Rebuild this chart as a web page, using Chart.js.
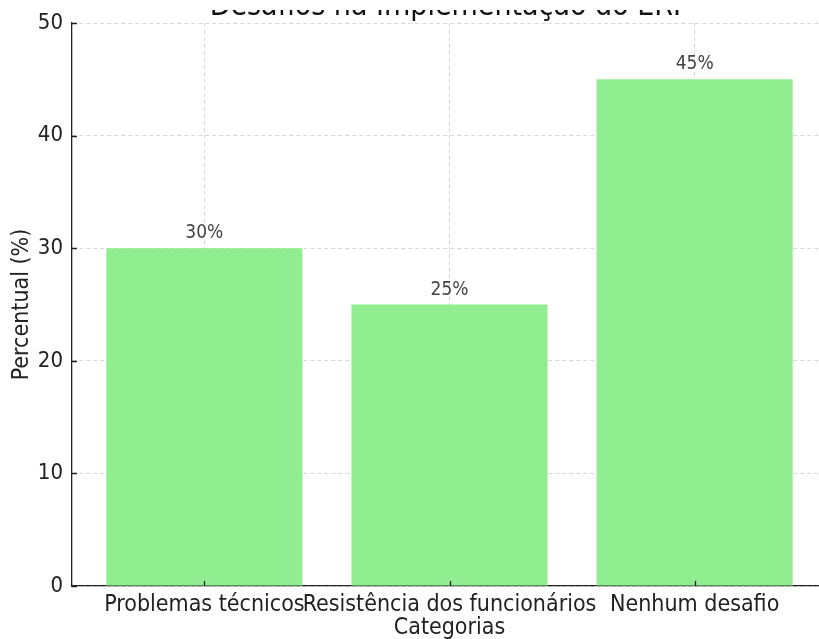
<!DOCTYPE html>
<html>
<head>
<meta charset="utf-8">
<script src="https://cdn.jsdelivr.net/npm/chart.js@4"></script>
<style>
  html, body { margin: 0; padding: 0; background: #fff; overflow: hidden; }
  .wrap { width: 830px; height: 639px; position: relative; }
</style>
</head>
<body>
<div class="wrap"><canvas id="chart"></canvas></div>
<script>
// dados do gráfico
const categorias = ['Problemas técnicos', 'Resistência dos funcionários', 'Nenhum desafio'];
const percentuais = [30, 25, 45];
const yTicks = [0, 10, 20, 30, 40, 50];
const titulo = 'Desafios na Implementação do ERP';

const fonte = "'DejaVu Sans Condensed', 'Liberation Sans Narrow', 'DejaVu Sans', sans-serif";

// título cortado no topo + rótulos em cima das barras + marcas de tick para dentro
const extras = {
  id: 'extras',
  afterDraw(chart) {
    const ctx = chart.ctx;
    const area = chart.chartArea;
    ctx.save();
    // só a parte de baixo do título aparece na referência
    ctx.save();
    ctx.beginPath();
    ctx.rect(0, 10, chart.width, 20);
    ctx.clip();
    ctx.fillStyle = '#111';
    ctx.font = '30px ' + fonte;
    ctx.textAlign = 'center';
    ctx.textBaseline = 'alphabetic';
    ctx.fillText(titulo, (area.left + area.right) / 2, 15);
    ctx.restore();

    ctx.font = '19px ' + fonte;
    ctx.fillStyle = '#444';
    ctx.textAlign = 'center';
    ctx.textBaseline = 'alphabetic';
    chart.getDatasetMeta(0).data.forEach((bar, i) => {
      ctx.fillText(percentuais[i] + '%', bar.x, bar.y - 10);
    });

    ctx.strokeStyle = '#222';
    ctx.lineWidth = 1.3;
    const xs = chart.scales.x, ys = chart.scales.y;
    ctx.beginPath();
    categorias.forEach((c, i) => {
      const px = Math.round(xs.getPixelForValue(i)) + 0.5;
      ctx.moveTo(px, area.bottom);
      ctx.lineTo(px, area.bottom - 5);
    });
    yTicks.forEach(v => {
      const py = Math.round(ys.getPixelForValue(v)) + 0.5;
      ctx.moveTo(area.left, py);
      ctx.lineTo(area.left + 5, py);
    });
    ctx.stroke();
    ctx.restore();
  }
};

new Chart(document.getElementById('chart'), {
  type: 'bar',
  data: {
    datasets: [{
      label: 'Percentual',
      data: percentuais.map((v, i) => ({ x: i, y: v })),
      backgroundColor: '#90EE90',
      borderWidth: 0,
      barPercentage: 0.8,
      categoryPercentage: 1.0
    }]
  },
  options: {
    responsive: true,
    maintainAspectRatio: false,
    animation: false,
    layout: { padding: { top: 23, right: 3, left: 0, bottom: 0 } },
    plugins: {
      legend: { display: false },
      tooltip: { enabled: false }
    },
    scales: {
      x: {
        type: 'linear',
        min: -0.54,
        max: 2.54,
        offset: false,
        z: 1,
        afterBuildTicks: (axis) => { axis.ticks = categorias.map((c, i) => ({ value: i })); },
        afterFit: (axis) => { axis.height = 53; },
        ticks: {
          callback: (v) => categorias[v],
          color: '#222',
          font: { family: fonte, size: 23 },
          padding: 5,
          maxRotation: 0,
          autoSkip: false
        },
        grid: { offset: false, color: 'rgba(175,175,175,0.5)', drawTicks: false, lineWidth: 1 },
        border: { display: true, color: '#222', width: 1.3, dash: [4, 3] },
        title: {
          display: true, text: 'Categorias', color: '#222',
          font: { family: fonte, size: 23 }, padding: { top: 0, bottom: -3 }
        }
      },
      y: {
        min: 0,
        max: 50,
        z: 1,
        afterBuildTicks: (axis) => { axis.ticks = yTicks.map(v => ({ value: v })); },
        afterFit: (axis) => { axis.width = 72; },
        ticks: {
          color: '#222',
          font: { family: fonte, size: 22 },
          padding: 9
        },
        grid: { color: 'rgba(175,175,175,0.5)', drawTicks: false, lineWidth: 1 },
        border: { display: true, color: '#222', width: 1.3, dash: [4, 3] },
        title: {
          display: true, text: 'Percentual (%)', color: '#222',
          font: { family: fonte, size: 23 }, padding: { top: 8, bottom: 0 }
        }
      }
    }
  },
  plugins: [extras]
});
</script>
</body>
</html>
